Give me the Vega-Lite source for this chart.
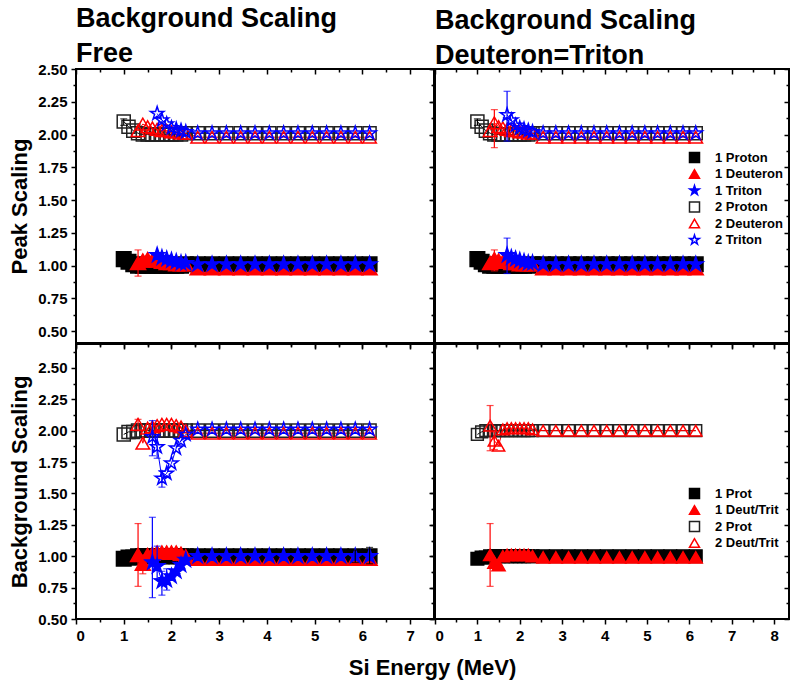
{
"$schema": "https://vega.github.io/schema/vega-lite/v6.json",
"padding": {"left": 7, "top": 4, "right": 0, "bottom": 4},
"bounds": "flush",
"spacing": 1,
"columns": 2,
"background": "white",
"config": {
  "view": {"stroke": "black", "strokeWidth": 2},
  "axis": {"labelFont": "Liberation Sans", "labelFontWeight": "bold", "labelFontSize": 15, "labelColor": "black", "tickColor": "black", "tickWidth": 1.5, "tickSize": 5, "domain": false, "grid": false, "titleFont": "Liberation Sans", "titleFontWeight": "bold", "titleFontSize": 22, "titleColor": "black", "labelPadding": 4, "titlePadding": 6},
  "title": {"font": "Liberation Sans", "fontSize": 27, "fontWeight": "bold", "anchor": "start", "frame": "group", "color": "black", "offset": -6, "lineHeight": 35},
  "legend": {"labelFont": "Liberation Sans", "labelFontWeight": "bold", "labelFontSize": 13, "labelColor": "black", "symbolSize": 100, "symbolStrokeWidth": 1.5, "rowPadding": 0.5, "labelOffset": 14, "padding": 0}
},
"datasets": {
"pts": [
{"p":"TL","s":"1 Proton","x":1.0,"y":1.05},{"p":"TL","s":"1 Proton","x":1.1,"y":1.03},{"p":"TL","s":"1 Proton","x":1.2,"y":1.01},{"p":"TL","s":"1 Proton","x":1.3,"y":1.0},{"p":"TL","s":"1 Proton","x":1.4,"y":1.0},{"p":"TL","s":"1 Proton","x":1.5,"y":1.0},{"p":"TL","s":"1 Proton","x":1.6,"y":1.0},{"p":"TL","s":"1 Proton","x":1.7,"y":1.0},{"p":"TL","s":"1 Proton","x":1.8,"y":1.0},{"p":"TL","s":"1 Proton","x":1.9,"y":1.0},{"p":"TL","s":"1 Proton","x":2.0,"y":1.0},{"p":"TL","s":"1 Proton","x":2.1,"y":1.0},{"p":"TL","s":"1 Proton","x":2.2,"y":1.0},{"p":"TL","s":"1 Proton","x":2.3,"y":1.01},
{"p":"TL","s":"1 Proton","x":2.55,"y":1.01},{"p":"TL","s":"1 Proton","x":2.85,"y":1.01},{"p":"TL","s":"1 Proton","x":3.15,"y":1.01},{"p":"TL","s":"1 Proton","x":3.45,"y":1.01},{"p":"TL","s":"1 Proton","x":3.75,"y":1.01},{"p":"TL","s":"1 Proton","x":4.05,"y":1.01},{"p":"TL","s":"1 Proton","x":4.35,"y":1.01},{"p":"TL","s":"1 Proton","x":4.65,"y":1.01},{"p":"TL","s":"1 Proton","x":4.95,"y":1.01},{"p":"TL","s":"1 Proton","x":5.25,"y":1.01},{"p":"TL","s":"1 Proton","x":5.55,"y":1.01},{"p":"TL","s":"1 Proton","x":5.85,"y":1.01},{"p":"TL","s":"1 Proton","x":6.15,"y":1.01},
{"p":"TL","s":"1 Deuteron","x":1.3,"y":1.02},{"p":"TL","s":"1 Deuteron","x":1.4,"y":1.04},{"p":"TL","s":"1 Deuteron","x":1.5,"y":1.05},{"p":"TL","s":"1 Deuteron","x":1.6,"y":1.04},{"p":"TL","s":"1 Deuteron","x":1.7,"y":1.04},{"p":"TL","s":"1 Deuteron","x":1.8,"y":1.03},{"p":"TL","s":"1 Deuteron","x":1.9,"y":1.02},{"p":"TL","s":"1 Deuteron","x":2.0,"y":1.02},{"p":"TL","s":"1 Deuteron","x":2.1,"y":1.01},{"p":"TL","s":"1 Deuteron","x":2.2,"y":1.01},{"p":"TL","s":"1 Deuteron","x":2.3,"y":1.01},
{"p":"TL","s":"1 Deuteron","x":2.55,"y":0.98},{"p":"TL","s":"1 Deuteron","x":2.85,"y":0.98},{"p":"TL","s":"1 Deuteron","x":3.15,"y":0.98},{"p":"TL","s":"1 Deuteron","x":3.45,"y":0.98},{"p":"TL","s":"1 Deuteron","x":3.75,"y":0.98},{"p":"TL","s":"1 Deuteron","x":4.05,"y":0.98},{"p":"TL","s":"1 Deuteron","x":4.35,"y":0.98},{"p":"TL","s":"1 Deuteron","x":4.65,"y":0.98},{"p":"TL","s":"1 Deuteron","x":4.95,"y":0.98},{"p":"TL","s":"1 Deuteron","x":5.25,"y":0.98},{"p":"TL","s":"1 Deuteron","x":5.55,"y":0.98},{"p":"TL","s":"1 Deuteron","x":5.85,"y":0.98},{"p":"TL","s":"1 Deuteron","x":6.15,"y":0.98},
{"p":"TL","s":"1 Triton","x":1.7,"y":1.08},{"p":"TL","s":"1 Triton","x":1.8,"y":1.06},{"p":"TL","s":"1 Triton","x":1.9,"y":1.05},{"p":"TL","s":"1 Triton","x":2.0,"y":1.04},{"p":"TL","s":"1 Triton","x":2.1,"y":1.03},{"p":"TL","s":"1 Triton","x":2.2,"y":1.02},{"p":"TL","s":"1 Triton","x":2.3,"y":1.02},
{"p":"TL","s":"1 Triton","x":2.55,"y":1.01},{"p":"TL","s":"1 Triton","x":2.85,"y":1.01},{"p":"TL","s":"1 Triton","x":3.15,"y":1.01},{"p":"TL","s":"1 Triton","x":3.45,"y":1.01},{"p":"TL","s":"1 Triton","x":3.75,"y":1.01},{"p":"TL","s":"1 Triton","x":4.05,"y":1.01},{"p":"TL","s":"1 Triton","x":4.35,"y":1.01},{"p":"TL","s":"1 Triton","x":4.65,"y":1.01},{"p":"TL","s":"1 Triton","x":4.95,"y":1.01},{"p":"TL","s":"1 Triton","x":5.25,"y":1.01},{"p":"TL","s":"1 Triton","x":5.55,"y":1.01},{"p":"TL","s":"1 Triton","x":5.85,"y":1.01},{"p":"TL","s":"1 Triton","x":6.15,"y":1.01},
{"p":"TL","s":"2 Proton","x":1.0,"y":2.10},{"p":"TL","s":"2 Proton","x":1.1,"y":2.06},{"p":"TL","s":"2 Proton","x":1.2,"y":2.03},{"p":"TL","s":"2 Proton","x":1.3,"y":2.01},{"p":"TL","s":"2 Proton","x":1.4,"y":2.0},{"p":"TL","s":"2 Proton","x":1.5,"y":2.0},{"p":"TL","s":"2 Proton","x":1.6,"y":2.0},{"p":"TL","s":"2 Proton","x":1.7,"y":2.0},{"p":"TL","s":"2 Proton","x":1.8,"y":2.0},{"p":"TL","s":"2 Proton","x":1.9,"y":2.0},{"p":"TL","s":"2 Proton","x":2.0,"y":2.0},{"p":"TL","s":"2 Proton","x":2.1,"y":2.0},{"p":"TL","s":"2 Proton","x":2.2,"y":2.0},{"p":"TL","s":"2 Proton","x":2.3,"y":2.01},
{"p":"TL","s":"2 Proton","x":2.55,"y":2.01},{"p":"TL","s":"2 Proton","x":2.85,"y":2.01},{"p":"TL","s":"2 Proton","x":3.15,"y":2.01},{"p":"TL","s":"2 Proton","x":3.45,"y":2.01},{"p":"TL","s":"2 Proton","x":3.75,"y":2.01},{"p":"TL","s":"2 Proton","x":4.05,"y":2.01},{"p":"TL","s":"2 Proton","x":4.35,"y":2.01},{"p":"TL","s":"2 Proton","x":4.65,"y":2.01},{"p":"TL","s":"2 Proton","x":4.95,"y":2.01},{"p":"TL","s":"2 Proton","x":5.25,"y":2.01},{"p":"TL","s":"2 Proton","x":5.55,"y":2.01},{"p":"TL","s":"2 Proton","x":5.85,"y":2.01},{"p":"TL","s":"2 Proton","x":6.15,"y":2.01},
{"p":"TL","s":"2 Deuteron","x":1.3,"y":2.03},{"p":"TL","s":"2 Deuteron","x":1.4,"y":2.08},{"p":"TL","s":"2 Deuteron","x":1.5,"y":2.06},{"p":"TL","s":"2 Deuteron","x":1.6,"y":2.05},{"p":"TL","s":"2 Deuteron","x":1.7,"y":2.04},{"p":"TL","s":"2 Deuteron","x":1.8,"y":2.03},{"p":"TL","s":"2 Deuteron","x":1.9,"y":2.03},{"p":"TL","s":"2 Deuteron","x":2.0,"y":2.02},{"p":"TL","s":"2 Deuteron","x":2.1,"y":2.02},{"p":"TL","s":"2 Deuteron","x":2.2,"y":2.01},{"p":"TL","s":"2 Deuteron","x":2.3,"y":2.01},
{"p":"TL","s":"2 Deuteron","x":2.55,"y":1.98},{"p":"TL","s":"2 Deuteron","x":2.85,"y":1.98},{"p":"TL","s":"2 Deuteron","x":3.15,"y":1.98},{"p":"TL","s":"2 Deuteron","x":3.45,"y":1.98},{"p":"TL","s":"2 Deuteron","x":3.75,"y":1.98},{"p":"TL","s":"2 Deuteron","x":4.05,"y":1.98},{"p":"TL","s":"2 Deuteron","x":4.35,"y":1.98},{"p":"TL","s":"2 Deuteron","x":4.65,"y":1.98},{"p":"TL","s":"2 Deuteron","x":4.95,"y":1.98},{"p":"TL","s":"2 Deuteron","x":5.25,"y":1.98},{"p":"TL","s":"2 Deuteron","x":5.55,"y":1.98},{"p":"TL","s":"2 Deuteron","x":5.85,"y":1.98},{"p":"TL","s":"2 Deuteron","x":6.15,"y":1.98},
{"p":"TL","s":"2 Triton","x":1.7,"y":2.16},{"p":"TL","s":"2 Triton","x":1.8,"y":2.11},{"p":"TL","s":"2 Triton","x":1.9,"y":2.08},{"p":"TL","s":"2 Triton","x":2.0,"y":2.05},{"p":"TL","s":"2 Triton","x":2.1,"y":2.04},{"p":"TL","s":"2 Triton","x":2.2,"y":2.03},{"p":"TL","s":"2 Triton","x":2.3,"y":2.02},
{"p":"TL","s":"2 Triton","x":2.55,"y":2.01},{"p":"TL","s":"2 Triton","x":2.85,"y":2.01},{"p":"TL","s":"2 Triton","x":3.15,"y":2.01},{"p":"TL","s":"2 Triton","x":3.45,"y":2.01},{"p":"TL","s":"2 Triton","x":3.75,"y":2.01},{"p":"TL","s":"2 Triton","x":4.05,"y":2.01},{"p":"TL","s":"2 Triton","x":4.35,"y":2.01},{"p":"TL","s":"2 Triton","x":4.65,"y":2.01},{"p":"TL","s":"2 Triton","x":4.95,"y":2.01},{"p":"TL","s":"2 Triton","x":5.25,"y":2.01},{"p":"TL","s":"2 Triton","x":5.55,"y":2.01},{"p":"TL","s":"2 Triton","x":5.85,"y":2.01},{"p":"TL","s":"2 Triton","x":6.15,"y":2.01},

{"p":"TR","s":"1 Proton","x":1.0,"y":1.05},{"p":"TR","s":"1 Proton","x":1.1,"y":1.03},{"p":"TR","s":"1 Proton","x":1.2,"y":1.01},{"p":"TR","s":"1 Proton","x":1.3,"y":1.0},{"p":"TR","s":"1 Proton","x":1.4,"y":1.0},{"p":"TR","s":"1 Proton","x":1.5,"y":1.0},{"p":"TR","s":"1 Proton","x":1.6,"y":1.0},{"p":"TR","s":"1 Proton","x":1.7,"y":1.0},{"p":"TR","s":"1 Proton","x":1.8,"y":1.0},{"p":"TR","s":"1 Proton","x":1.9,"y":1.0},{"p":"TR","s":"1 Proton","x":2.0,"y":1.0},{"p":"TR","s":"1 Proton","x":2.1,"y":1.0},{"p":"TR","s":"1 Proton","x":2.2,"y":1.0},{"p":"TR","s":"1 Proton","x":2.3,"y":1.01},
{"p":"TR","s":"1 Proton","x":2.55,"y":1.01},{"p":"TR","s":"1 Proton","x":2.85,"y":1.01},{"p":"TR","s":"1 Proton","x":3.15,"y":1.01},{"p":"TR","s":"1 Proton","x":3.45,"y":1.01},{"p":"TR","s":"1 Proton","x":3.75,"y":1.01},{"p":"TR","s":"1 Proton","x":4.05,"y":1.01},{"p":"TR","s":"1 Proton","x":4.35,"y":1.01},{"p":"TR","s":"1 Proton","x":4.65,"y":1.01},{"p":"TR","s":"1 Proton","x":4.95,"y":1.01},{"p":"TR","s":"1 Proton","x":5.25,"y":1.01},{"p":"TR","s":"1 Proton","x":5.55,"y":1.01},{"p":"TR","s":"1 Proton","x":5.85,"y":1.01},{"p":"TR","s":"1 Proton","x":6.15,"y":1.01},
{"p":"TR","s":"1 Deuteron","x":1.3,"y":1.02},{"p":"TR","s":"1 Deuteron","x":1.4,"y":1.05},{"p":"TR","s":"1 Deuteron","x":1.5,"y":1.04},{"p":"TR","s":"1 Deuteron","x":1.6,"y":1.03},{"p":"TR","s":"1 Deuteron","x":1.7,"y":1.03},{"p":"TR","s":"1 Deuteron","x":1.8,"y":1.02},{"p":"TR","s":"1 Deuteron","x":1.9,"y":1.02},{"p":"TR","s":"1 Deuteron","x":2.0,"y":1.01},{"p":"TR","s":"1 Deuteron","x":2.1,"y":1.01},{"p":"TR","s":"1 Deuteron","x":2.2,"y":1.01},{"p":"TR","s":"1 Deuteron","x":2.3,"y":1.01},
{"p":"TR","s":"1 Deuteron","x":2.55,"y":0.98},{"p":"TR","s":"1 Deuteron","x":2.85,"y":0.98},{"p":"TR","s":"1 Deuteron","x":3.15,"y":0.98},{"p":"TR","s":"1 Deuteron","x":3.45,"y":0.98},{"p":"TR","s":"1 Deuteron","x":3.75,"y":0.98},{"p":"TR","s":"1 Deuteron","x":4.05,"y":0.98},{"p":"TR","s":"1 Deuteron","x":4.35,"y":0.98},{"p":"TR","s":"1 Deuteron","x":4.65,"y":0.98},{"p":"TR","s":"1 Deuteron","x":4.95,"y":0.98},{"p":"TR","s":"1 Deuteron","x":5.25,"y":0.98},{"p":"TR","s":"1 Deuteron","x":5.55,"y":0.98},{"p":"TR","s":"1 Deuteron","x":5.85,"y":0.98},{"p":"TR","s":"1 Deuteron","x":6.15,"y":0.98},
{"p":"TR","s":"1 Triton","x":1.7,"y":1.08},{"p":"TR","s":"1 Triton","x":1.8,"y":1.06},{"p":"TR","s":"1 Triton","x":1.9,"y":1.05},{"p":"TR","s":"1 Triton","x":2.0,"y":1.04},{"p":"TR","s":"1 Triton","x":2.1,"y":1.03},{"p":"TR","s":"1 Triton","x":2.2,"y":1.02},{"p":"TR","s":"1 Triton","x":2.3,"y":1.02},
{"p":"TR","s":"1 Triton","x":2.55,"y":1.01},{"p":"TR","s":"1 Triton","x":2.85,"y":1.01},{"p":"TR","s":"1 Triton","x":3.15,"y":1.01},{"p":"TR","s":"1 Triton","x":3.45,"y":1.01},{"p":"TR","s":"1 Triton","x":3.75,"y":1.01},{"p":"TR","s":"1 Triton","x":4.05,"y":1.01},{"p":"TR","s":"1 Triton","x":4.35,"y":1.01},{"p":"TR","s":"1 Triton","x":4.65,"y":1.01},{"p":"TR","s":"1 Triton","x":4.95,"y":1.01},{"p":"TR","s":"1 Triton","x":5.25,"y":1.01},{"p":"TR","s":"1 Triton","x":5.55,"y":1.01},{"p":"TR","s":"1 Triton","x":5.85,"y":1.01},{"p":"TR","s":"1 Triton","x":6.15,"y":1.01},
{"p":"TR","s":"2 Proton","x":1.0,"y":2.10},{"p":"TR","s":"2 Proton","x":1.1,"y":2.06},{"p":"TR","s":"2 Proton","x":1.2,"y":2.03},{"p":"TR","s":"2 Proton","x":1.3,"y":2.01},{"p":"TR","s":"2 Proton","x":1.4,"y":2.0},{"p":"TR","s":"2 Proton","x":1.5,"y":2.0},{"p":"TR","s":"2 Proton","x":1.6,"y":2.0},{"p":"TR","s":"2 Proton","x":1.7,"y":2.0},{"p":"TR","s":"2 Proton","x":1.8,"y":2.0},{"p":"TR","s":"2 Proton","x":1.9,"y":2.0},{"p":"TR","s":"2 Proton","x":2.0,"y":2.0},{"p":"TR","s":"2 Proton","x":2.1,"y":2.0},{"p":"TR","s":"2 Proton","x":2.2,"y":2.0},{"p":"TR","s":"2 Proton","x":2.3,"y":2.01},
{"p":"TR","s":"2 Proton","x":2.55,"y":2.01},{"p":"TR","s":"2 Proton","x":2.85,"y":2.01},{"p":"TR","s":"2 Proton","x":3.15,"y":2.01},{"p":"TR","s":"2 Proton","x":3.45,"y":2.01},{"p":"TR","s":"2 Proton","x":3.75,"y":2.01},{"p":"TR","s":"2 Proton","x":4.05,"y":2.01},{"p":"TR","s":"2 Proton","x":4.35,"y":2.01},{"p":"TR","s":"2 Proton","x":4.65,"y":2.01},{"p":"TR","s":"2 Proton","x":4.95,"y":2.01},{"p":"TR","s":"2 Proton","x":5.25,"y":2.01},{"p":"TR","s":"2 Proton","x":5.55,"y":2.01},{"p":"TR","s":"2 Proton","x":5.85,"y":2.01},{"p":"TR","s":"2 Proton","x":6.15,"y":2.01},
{"p":"TR","s":"2 Deuteron","x":1.3,"y":2.03},{"p":"TR","s":"2 Deuteron","x":1.4,"y":2.09},{"p":"TR","s":"2 Deuteron","x":1.5,"y":2.06},{"p":"TR","s":"2 Deuteron","x":1.6,"y":2.05},{"p":"TR","s":"2 Deuteron","x":1.7,"y":2.04},{"p":"TR","s":"2 Deuteron","x":1.8,"y":2.03},{"p":"TR","s":"2 Deuteron","x":1.9,"y":2.03},{"p":"TR","s":"2 Deuteron","x":2.0,"y":2.02},{"p":"TR","s":"2 Deuteron","x":2.1,"y":2.02},{"p":"TR","s":"2 Deuteron","x":2.2,"y":2.01},{"p":"TR","s":"2 Deuteron","x":2.3,"y":2.01},
{"p":"TR","s":"2 Deuteron","x":2.55,"y":1.98},{"p":"TR","s":"2 Deuteron","x":2.85,"y":1.98},{"p":"TR","s":"2 Deuteron","x":3.15,"y":1.98},{"p":"TR","s":"2 Deuteron","x":3.45,"y":1.98},{"p":"TR","s":"2 Deuteron","x":3.75,"y":1.98},{"p":"TR","s":"2 Deuteron","x":4.05,"y":1.98},{"p":"TR","s":"2 Deuteron","x":4.35,"y":1.98},{"p":"TR","s":"2 Deuteron","x":4.65,"y":1.98},{"p":"TR","s":"2 Deuteron","x":4.95,"y":1.98},{"p":"TR","s":"2 Deuteron","x":5.25,"y":1.98},{"p":"TR","s":"2 Deuteron","x":5.55,"y":1.98},{"p":"TR","s":"2 Deuteron","x":5.85,"y":1.98},{"p":"TR","s":"2 Deuteron","x":6.15,"y":1.98},
{"p":"TR","s":"2 Triton","x":1.7,"y":2.15},{"p":"TR","s":"2 Triton","x":1.8,"y":2.11},{"p":"TR","s":"2 Triton","x":1.9,"y":2.07},{"p":"TR","s":"2 Triton","x":2.0,"y":2.05},{"p":"TR","s":"2 Triton","x":2.1,"y":2.04},{"p":"TR","s":"2 Triton","x":2.2,"y":2.03},{"p":"TR","s":"2 Triton","x":2.3,"y":2.02},
{"p":"TR","s":"2 Triton","x":2.55,"y":2.01},{"p":"TR","s":"2 Triton","x":2.85,"y":2.01},{"p":"TR","s":"2 Triton","x":3.15,"y":2.01},{"p":"TR","s":"2 Triton","x":3.45,"y":2.01},{"p":"TR","s":"2 Triton","x":3.75,"y":2.01},{"p":"TR","s":"2 Triton","x":4.05,"y":2.01},{"p":"TR","s":"2 Triton","x":4.35,"y":2.01},{"p":"TR","s":"2 Triton","x":4.65,"y":2.01},{"p":"TR","s":"2 Triton","x":4.95,"y":2.01},{"p":"TR","s":"2 Triton","x":5.25,"y":2.01},{"p":"TR","s":"2 Triton","x":5.55,"y":2.01},{"p":"TR","s":"2 Triton","x":5.85,"y":2.01},{"p":"TR","s":"2 Triton","x":6.15,"y":2.01},

{"p":"BL","s":"1 Proton","x":1.0,"y":0.98},{"p":"BL","s":"1 Proton","x":1.1,"y":0.99},{"p":"BL","s":"1 Proton","x":1.2,"y":0.99},{"p":"BL","s":"1 Proton","x":1.3,"y":1.0},{"p":"BL","s":"1 Proton","x":1.4,"y":1.0},{"p":"BL","s":"1 Proton","x":1.5,"y":1.0},{"p":"BL","s":"1 Proton","x":1.6,"y":1.0},{"p":"BL","s":"1 Proton","x":1.7,"y":1.0},{"p":"BL","s":"1 Proton","x":1.8,"y":1.0},{"p":"BL","s":"1 Proton","x":1.9,"y":1.0},{"p":"BL","s":"1 Proton","x":2.0,"y":1.0},{"p":"BL","s":"1 Proton","x":2.1,"y":1.0},{"p":"BL","s":"1 Proton","x":2.2,"y":1.0},{"p":"BL","s":"1 Proton","x":2.3,"y":1.0},
{"p":"BL","s":"1 Proton","x":2.55,"y":1.0},{"p":"BL","s":"1 Proton","x":2.85,"y":1.0},{"p":"BL","s":"1 Proton","x":3.15,"y":1.0},{"p":"BL","s":"1 Proton","x":3.45,"y":1.0},{"p":"BL","s":"1 Proton","x":3.75,"y":1.0},{"p":"BL","s":"1 Proton","x":4.05,"y":1.0},{"p":"BL","s":"1 Proton","x":4.35,"y":1.0},{"p":"BL","s":"1 Proton","x":4.65,"y":1.0},{"p":"BL","s":"1 Proton","x":4.95,"y":1.0},{"p":"BL","s":"1 Proton","x":5.25,"y":1.0},{"p":"BL","s":"1 Proton","x":5.55,"y":1.0},{"p":"BL","s":"1 Proton","x":5.85,"y":1.0},{"p":"BL","s":"1 Proton","x":6.15,"y":1.0},
{"p":"BL","s":"1 Deuteron","x":1.3,"y":1.01},{"p":"BL","s":"1 Deuteron","x":1.4,"y":0.94},{"p":"BL","s":"1 Deuteron","x":1.5,"y":1.01},{"p":"BL","s":"1 Deuteron","x":1.6,"y":1.02},{"p":"BL","s":"1 Deuteron","x":1.7,"y":1.03},{"p":"BL","s":"1 Deuteron","x":1.8,"y":1.03},{"p":"BL","s":"1 Deuteron","x":1.9,"y":1.03},{"p":"BL","s":"1 Deuteron","x":2.0,"y":1.03},{"p":"BL","s":"1 Deuteron","x":2.1,"y":1.03},{"p":"BL","s":"1 Deuteron","x":2.2,"y":1.02},{"p":"BL","s":"1 Deuteron","x":2.3,"y":1.0},
{"p":"BL","s":"1 Deuteron","x":2.55,"y":0.98},{"p":"BL","s":"1 Deuteron","x":2.85,"y":0.98},{"p":"BL","s":"1 Deuteron","x":3.15,"y":0.98},{"p":"BL","s":"1 Deuteron","x":3.45,"y":0.98},{"p":"BL","s":"1 Deuteron","x":3.75,"y":0.98},{"p":"BL","s":"1 Deuteron","x":4.05,"y":0.98},{"p":"BL","s":"1 Deuteron","x":4.35,"y":0.98},{"p":"BL","s":"1 Deuteron","x":4.65,"y":0.98},{"p":"BL","s":"1 Deuteron","x":4.95,"y":0.98},{"p":"BL","s":"1 Deuteron","x":5.25,"y":0.98},{"p":"BL","s":"1 Deuteron","x":5.55,"y":0.98},{"p":"BL","s":"1 Deuteron","x":5.85,"y":0.98},{"p":"BL","s":"1 Deuteron","x":6.15,"y":0.98},
{"p":"BL","s":"1 Triton","x":1.6,"y":0.95},{"p":"BL","s":"1 Triton","x":1.7,"y":0.92},{"p":"BL","s":"1 Triton","x":1.8,"y":0.80},{"p":"BL","s":"1 Triton","x":1.9,"y":0.81},{"p":"BL","s":"1 Triton","x":2.0,"y":0.84},{"p":"BL","s":"1 Triton","x":2.1,"y":0.88},{"p":"BL","s":"1 Triton","x":2.2,"y":0.93},{"p":"BL","s":"1 Triton","x":2.3,"y":0.97},
{"p":"BL","s":"1 Triton","x":2.55,"y":1.0},{"p":"BL","s":"1 Triton","x":2.85,"y":1.0},{"p":"BL","s":"1 Triton","x":3.15,"y":1.0},{"p":"BL","s":"1 Triton","x":3.45,"y":1.0},{"p":"BL","s":"1 Triton","x":3.75,"y":1.0},{"p":"BL","s":"1 Triton","x":4.05,"y":1.0},{"p":"BL","s":"1 Triton","x":4.35,"y":1.0},{"p":"BL","s":"1 Triton","x":4.65,"y":1.0},{"p":"BL","s":"1 Triton","x":4.95,"y":1.0},{"p":"BL","s":"1 Triton","x":5.25,"y":1.0},{"p":"BL","s":"1 Triton","x":5.55,"y":1.0},{"p":"BL","s":"1 Triton","x":5.85,"y":1.0},{"p":"BL","s":"1 Triton","x":6.15,"y":1.0},
{"p":"BL","s":"2 Proton","x":1.0,"y":1.97},{"p":"BL","s":"2 Proton","x":1.1,"y":1.99},{"p":"BL","s":"2 Proton","x":1.2,"y":1.99},{"p":"BL","s":"2 Proton","x":1.3,"y":2.0},{"p":"BL","s":"2 Proton","x":1.4,"y":2.0},{"p":"BL","s":"2 Proton","x":1.5,"y":2.0},{"p":"BL","s":"2 Proton","x":1.6,"y":2.0},{"p":"BL","s":"2 Proton","x":1.7,"y":2.0},{"p":"BL","s":"2 Proton","x":1.8,"y":2.0},{"p":"BL","s":"2 Proton","x":1.9,"y":2.0},{"p":"BL","s":"2 Proton","x":2.0,"y":2.0},{"p":"BL","s":"2 Proton","x":2.1,"y":2.0},{"p":"BL","s":"2 Proton","x":2.2,"y":2.0},{"p":"BL","s":"2 Proton","x":2.3,"y":2.0},
{"p":"BL","s":"2 Proton","x":2.55,"y":2.0},{"p":"BL","s":"2 Proton","x":2.85,"y":2.0},{"p":"BL","s":"2 Proton","x":3.15,"y":2.0},{"p":"BL","s":"2 Proton","x":3.45,"y":2.0},{"p":"BL","s":"2 Proton","x":3.75,"y":2.0},{"p":"BL","s":"2 Proton","x":4.05,"y":2.0},{"p":"BL","s":"2 Proton","x":4.35,"y":2.0},{"p":"BL","s":"2 Proton","x":4.65,"y":2.0},{"p":"BL","s":"2 Proton","x":4.95,"y":2.0},{"p":"BL","s":"2 Proton","x":5.25,"y":2.0},{"p":"BL","s":"2 Proton","x":5.55,"y":2.0},{"p":"BL","s":"2 Proton","x":5.85,"y":2.0},{"p":"BL","s":"2 Proton","x":6.15,"y":2.0},
{"p":"BL","s":"2 Deuteron","x":1.3,"y":2.05},{"p":"BL","s":"2 Deuteron","x":1.4,"y":1.90},{"p":"BL","s":"2 Deuteron","x":1.5,"y":2.02},{"p":"BL","s":"2 Deuteron","x":1.6,"y":2.03},{"p":"BL","s":"2 Deuteron","x":1.7,"y":2.04},{"p":"BL","s":"2 Deuteron","x":1.8,"y":2.05},{"p":"BL","s":"2 Deuteron","x":1.9,"y":2.05},{"p":"BL","s":"2 Deuteron","x":2.0,"y":2.05},{"p":"BL","s":"2 Deuteron","x":2.1,"y":2.04},{"p":"BL","s":"2 Deuteron","x":2.2,"y":2.03},{"p":"BL","s":"2 Deuteron","x":2.3,"y":2.0},
{"p":"BL","s":"2 Deuteron","x":2.55,"y":1.98},{"p":"BL","s":"2 Deuteron","x":2.85,"y":1.98},{"p":"BL","s":"2 Deuteron","x":3.15,"y":1.98},{"p":"BL","s":"2 Deuteron","x":3.45,"y":1.98},{"p":"BL","s":"2 Deuteron","x":3.75,"y":1.98},{"p":"BL","s":"2 Deuteron","x":4.05,"y":1.98},{"p":"BL","s":"2 Deuteron","x":4.35,"y":1.98},{"p":"BL","s":"2 Deuteron","x":4.65,"y":1.98},{"p":"BL","s":"2 Deuteron","x":4.95,"y":1.98},{"p":"BL","s":"2 Deuteron","x":5.25,"y":1.98},{"p":"BL","s":"2 Deuteron","x":5.55,"y":1.98},{"p":"BL","s":"2 Deuteron","x":5.85,"y":1.98},{"p":"BL","s":"2 Deuteron","x":6.15,"y":1.98},
{"p":"BL","s":"2 Triton","x":1.6,"y":1.95},{"p":"BL","s":"2 Triton","x":1.7,"y":1.87},{"p":"BL","s":"2 Triton","x":1.8,"y":1.62},{"p":"BL","s":"2 Triton","x":1.9,"y":1.66},{"p":"BL","s":"2 Triton","x":2.0,"y":1.74},{"p":"BL","s":"2 Triton","x":2.1,"y":1.86},{"p":"BL","s":"2 Triton","x":2.2,"y":1.92},{"p":"BL","s":"2 Triton","x":2.3,"y":1.97},
{"p":"BL","s":"2 Triton","x":2.55,"y":2.01},{"p":"BL","s":"2 Triton","x":2.85,"y":2.01},{"p":"BL","s":"2 Triton","x":3.15,"y":2.01},{"p":"BL","s":"2 Triton","x":3.45,"y":2.01},{"p":"BL","s":"2 Triton","x":3.75,"y":2.01},{"p":"BL","s":"2 Triton","x":4.05,"y":2.01},{"p":"BL","s":"2 Triton","x":4.35,"y":2.01},{"p":"BL","s":"2 Triton","x":4.65,"y":2.01},{"p":"BL","s":"2 Triton","x":4.95,"y":2.01},{"p":"BL","s":"2 Triton","x":5.25,"y":2.01},{"p":"BL","s":"2 Triton","x":5.55,"y":2.01},{"p":"BL","s":"2 Triton","x":5.85,"y":2.01},{"p":"BL","s":"2 Triton","x":6.15,"y":2.01},

{"p":"BR","s":"1 Prot","x":1.0,"y":0.98},{"p":"BR","s":"1 Prot","x":1.1,"y":0.99},{"p":"BR","s":"1 Prot","x":1.2,"y":0.99},{"p":"BR","s":"1 Prot","x":1.3,"y":1.0},{"p":"BR","s":"1 Prot","x":1.4,"y":1.0},{"p":"BR","s":"1 Prot","x":1.5,"y":1.0},{"p":"BR","s":"1 Prot","x":1.6,"y":1.0},{"p":"BR","s":"1 Prot","x":1.7,"y":1.0},{"p":"BR","s":"1 Prot","x":1.8,"y":1.0},{"p":"BR","s":"1 Prot","x":1.9,"y":1.0},{"p":"BR","s":"1 Prot","x":2.0,"y":1.0},{"p":"BR","s":"1 Prot","x":2.1,"y":1.0},{"p":"BR","s":"1 Prot","x":2.2,"y":1.0},{"p":"BR","s":"1 Prot","x":2.3,"y":1.0},
{"p":"BR","s":"1 Prot","x":2.55,"y":1.0},{"p":"BR","s":"1 Prot","x":2.85,"y":1.0},{"p":"BR","s":"1 Prot","x":3.15,"y":1.0},{"p":"BR","s":"1 Prot","x":3.45,"y":1.0},{"p":"BR","s":"1 Prot","x":3.75,"y":1.0},{"p":"BR","s":"1 Prot","x":4.05,"y":1.0},{"p":"BR","s":"1 Prot","x":4.35,"y":1.0},{"p":"BR","s":"1 Prot","x":4.65,"y":1.0},{"p":"BR","s":"1 Prot","x":4.95,"y":1.0},{"p":"BR","s":"1 Prot","x":5.25,"y":1.0},{"p":"BR","s":"1 Prot","x":5.55,"y":1.0},{"p":"BR","s":"1 Prot","x":5.85,"y":1.0},{"p":"BR","s":"1 Prot","x":6.15,"y":1.0},
{"p":"BR","s":"1 Deut/Trit","x":1.3,"y":1.01},{"p":"BR","s":"1 Deut/Trit","x":1.4,"y":0.95},{"p":"BR","s":"1 Deut/Trit","x":1.5,"y":0.93},{"p":"BR","s":"1 Deut/Trit","x":1.6,"y":1.0},{"p":"BR","s":"1 Deut/Trit","x":1.7,"y":1.01},{"p":"BR","s":"1 Deut/Trit","x":1.8,"y":1.01},{"p":"BR","s":"1 Deut/Trit","x":1.9,"y":1.01},{"p":"BR","s":"1 Deut/Trit","x":2.0,"y":1.01},{"p":"BR","s":"1 Deut/Trit","x":2.1,"y":1.01},{"p":"BR","s":"1 Deut/Trit","x":2.2,"y":1.01},{"p":"BR","s":"1 Deut/Trit","x":2.3,"y":1.0},
{"p":"BR","s":"1 Deut/Trit","x":2.55,"y":0.99},{"p":"BR","s":"1 Deut/Trit","x":2.85,"y":0.99},{"p":"BR","s":"1 Deut/Trit","x":3.15,"y":0.99},{"p":"BR","s":"1 Deut/Trit","x":3.45,"y":0.99},{"p":"BR","s":"1 Deut/Trit","x":3.75,"y":0.99},{"p":"BR","s":"1 Deut/Trit","x":4.05,"y":0.99},{"p":"BR","s":"1 Deut/Trit","x":4.35,"y":0.99},{"p":"BR","s":"1 Deut/Trit","x":4.65,"y":0.99},{"p":"BR","s":"1 Deut/Trit","x":4.95,"y":0.99},{"p":"BR","s":"1 Deut/Trit","x":5.25,"y":0.99},{"p":"BR","s":"1 Deut/Trit","x":5.55,"y":0.99},{"p":"BR","s":"1 Deut/Trit","x":5.85,"y":0.99},{"p":"BR","s":"1 Deut/Trit","x":6.15,"y":0.99},
{"p":"BR","s":"2 Prot","x":1.0,"y":1.97},{"p":"BR","s":"2 Prot","x":1.1,"y":1.99},{"p":"BR","s":"2 Prot","x":1.2,"y":2.0},{"p":"BR","s":"2 Prot","x":1.3,"y":2.0},{"p":"BR","s":"2 Prot","x":1.4,"y":2.0},{"p":"BR","s":"2 Prot","x":1.5,"y":2.0},{"p":"BR","s":"2 Prot","x":1.6,"y":2.0},{"p":"BR","s":"2 Prot","x":1.7,"y":2.0},{"p":"BR","s":"2 Prot","x":1.8,"y":2.0},{"p":"BR","s":"2 Prot","x":1.9,"y":2.0},{"p":"BR","s":"2 Prot","x":2.0,"y":2.0},{"p":"BR","s":"2 Prot","x":2.1,"y":2.0},{"p":"BR","s":"2 Prot","x":2.2,"y":2.0},{"p":"BR","s":"2 Prot","x":2.3,"y":2.0},
{"p":"BR","s":"2 Prot","x":2.55,"y":2.0},{"p":"BR","s":"2 Prot","x":2.85,"y":2.0},{"p":"BR","s":"2 Prot","x":3.15,"y":2.0},{"p":"BR","s":"2 Prot","x":3.45,"y":2.0},{"p":"BR","s":"2 Prot","x":3.75,"y":2.0},{"p":"BR","s":"2 Prot","x":4.05,"y":2.0},{"p":"BR","s":"2 Prot","x":4.35,"y":2.0},{"p":"BR","s":"2 Prot","x":4.65,"y":2.0},{"p":"BR","s":"2 Prot","x":4.95,"y":2.0},{"p":"BR","s":"2 Prot","x":5.25,"y":2.0},{"p":"BR","s":"2 Prot","x":5.55,"y":2.0},{"p":"BR","s":"2 Prot","x":5.85,"y":2.0},{"p":"BR","s":"2 Prot","x":6.15,"y":2.0},
{"p":"BR","s":"2 Deut/Trit","x":1.3,"y":2.04},{"p":"BR","s":"2 Deut/Trit","x":1.4,"y":1.92},{"p":"BR","s":"2 Deut/Trit","x":1.5,"y":1.88},{"p":"BR","s":"2 Deut/Trit","x":1.6,"y":2.01},{"p":"BR","s":"2 Deut/Trit","x":1.7,"y":2.02},{"p":"BR","s":"2 Deut/Trit","x":1.8,"y":2.02},{"p":"BR","s":"2 Deut/Trit","x":1.9,"y":2.02},{"p":"BR","s":"2 Deut/Trit","x":2.0,"y":2.02},{"p":"BR","s":"2 Deut/Trit","x":2.1,"y":2.02},{"p":"BR","s":"2 Deut/Trit","x":2.2,"y":2.02},{"p":"BR","s":"2 Deut/Trit","x":2.3,"y":2.01},
{"p":"BR","s":"2 Deut/Trit","x":2.55,"y":2.0},{"p":"BR","s":"2 Deut/Trit","x":2.85,"y":2.0},{"p":"BR","s":"2 Deut/Trit","x":3.15,"y":2.0},{"p":"BR","s":"2 Deut/Trit","x":3.45,"y":2.0},{"p":"BR","s":"2 Deut/Trit","x":3.75,"y":2.0},{"p":"BR","s":"2 Deut/Trit","x":4.05,"y":2.0},{"p":"BR","s":"2 Deut/Trit","x":4.35,"y":2.0},{"p":"BR","s":"2 Deut/Trit","x":4.65,"y":2.0},{"p":"BR","s":"2 Deut/Trit","x":4.95,"y":2.0},{"p":"BR","s":"2 Deut/Trit","x":5.25,"y":2.0},{"p":"BR","s":"2 Deut/Trit","x":5.55,"y":2.0},{"p":"BR","s":"2 Deut/Trit","x":5.85,"y":2.0},{"p":"BR","s":"2 Deut/Trit","x":6.15,"y":2.0}
],
"err": [
{"p":"TL","s":"1 Deuteron","x":1.3,"lo":0.92,"hi":1.12},{"p":"TL","s":"2 Proton","x":1.0,"lo":2.07,"hi":2.12},
{"p":"TR","s":"1 Deuteron","x":1.4,"lo":0.96,"hi":1.12},{"p":"TR","s":"1 Triton","x":1.7,"lo":0.94,"hi":1.21},{"p":"TR","s":"2 Deuteron","x":1.4,"lo":1.90,"hi":2.19},{"p":"TR","s":"2 Triton","x":1.7,"lo":1.95,"hi":2.33},{"p":"TR","s":"2 Proton","x":1.0,"lo":2.07,"hi":2.12},
{"p":"BL","s":"1 Deuteron","x":1.3,"lo":0.76,"hi":1.26},{"p":"BL","s":"1 Deuteron","x":1.4,"lo":0.86,"hi":1.01},{"p":"BL","s":"1 Triton","x":1.6,"lo":0.67,"hi":1.31},{"p":"BL","s":"1 Triton","x":1.7,"lo":0.82,"hi":1.08},{"p":"BL","s":"1 Triton","x":1.8,"lo":0.69,"hi":0.88},{"p":"BL","s":"1 Triton","x":1.9,"lo":0.73,"hi":0.90},{"p":"BL","s":"1 Proton","x":5.85,"lo":0.95,"hi":1.05},{"p":"BL","s":"1 Proton","x":6.15,"lo":0.94,"hi":1.07},{"p":"BL","s":"2 Deuteron","x":1.3,"lo":2.0,"hi":2.09},{"p":"BL","s":"2 Triton","x":1.6,"lo":1.80,"hi":2.08},{"p":"BL","s":"2 Triton","x":1.7,"lo":1.78,"hi":1.95},{"p":"BL","s":"2 Triton","x":1.8,"lo":1.55,"hi":1.68},
{"p":"BR","s":"1 Deut/Trit","x":1.3,"lo":0.76,"hi":1.26},{"p":"BR","s":"2 Deut/Trit","x":1.3,"lo":1.84,"hi":2.20},{"p":"BR","s":"2 Deut/Trit","x":1.4,"lo":1.85,"hi":1.99}
]
},
"resolve": {"scale": {"x": "independent", "y": "independent", "color": "independent", "stroke": "independent", "fill": "independent", "shape": "independent", "size": "independent"}},
"concat": [
{
"width": 358, "height": 274,
"title": {"text": ["Background Scaling", "Free"]},
"resolve": {"axis": {"x": "independent", "y": "independent"}},
"layer": [
{"data": {"name": "pts"}, "transform": [{"filter": "datum.p == 'TL'"}],
 "mark": {"type": "line", "strokeWidth": 1},
 "encoding": {
  "x": {"field": "x", "type": "quantitative", "scale": {"domain": [0, 7.5], "nice": false, "zero": false}, "axis": {"orient": "bottom", "values": [0,1,2,3,4,5,6,7], "labels": false, "title": null}},
  "y": {"field": "y", "type": "quantitative", "scale": {"domain": [0.41, 2.5], "nice": false, "zero": false}, "axis": {"orient": "left", "values": [0.5,0.75,1,1.25,1.5,1.75,2,2.25,2.5], "format": ".2f", "title": "Peak Scaling"}},
  "color": {"field": "s", "type": "nominal", "scale": {"domain": ["2 Triton","2 Deuteron","2 Proton","1 Triton","1 Deuteron","1 Proton"], "range": ["#0000ff","#ff0000","#000000","#0000ff","#ff0000","#000000"]}, "legend": null}
 }},
{"data": {"name": "pts"}, "transform": [{"filter": "datum.p == 'TL'"}],
 "mark": {"type": "point", "filled": true, "strokeWidth": 1.5, "opacity": 1},
 "encoding": {
  "x": {"field": "x", "type": "quantitative", "scale": {"domain": [0, 7.5], "nice": false, "zero": false}, "axis": null},
  "y": {"field": "y", "type": "quantitative", "scale": {"domain": [0.41, 2.5], "nice": false, "zero": false}, "axis": null},
  "size": {"field": "s", "type": "nominal", "scale": {"domain": ["1 Triton","1 Deuteron","1 Proton","2 Triton","2 Deuteron","2 Proton"], "range": [240,170,140,240,170,140]}, "legend": null},
  "shape": {"field": "s", "type": "nominal", "scale": {"domain": ["1 Proton","1 Deuteron","1 Triton","2 Proton","2 Deuteron","2 Triton"], "range": ["square","triangle-up","M0,-1L0.2245,-0.309L0.951,-0.309L0.363,0.118L0.588,0.809L0,0.382L-0.588,0.809L-0.363,0.118L-0.951,-0.309L-0.2245,-0.309Z","square","triangle-up","M0,-1L0.2245,-0.309L0.951,-0.309L0.363,0.118L0.588,0.809L0,0.382L-0.588,0.809L-0.363,0.118L-0.951,-0.309L-0.2245,-0.309Z"]}, "legend": null},
  "stroke": {"field": "s", "type": "nominal", "scale": {"domain": ["1 Proton","1 Deuteron","1 Triton","2 Proton","2 Deuteron","2 Triton"], "range": ["#000000","#ff0000","#0000ff","#222222","#ff0000","#0000ff"]}, "legend": null},
  "fill": {"field": "s", "type": "nominal", "scale": {"domain": ["1 Proton","1 Deuteron","1 Triton","2 Proton","2 Deuteron","2 Triton"], "range": ["#000000","#ff0000","#0000ff","transparent","transparent","transparent"]}, "legend": null}
 }},
{"data": {"name": "err"}, "transform": [{"filter": "datum.p == 'TL'"}],
 "mark": {"type": "rule", "strokeWidth": 1.2},
 "encoding": {
  "x": {"field": "x", "type": "quantitative", "scale": {"domain": [0, 7.5], "nice": false, "zero": false}, "axis": {"orient": "top", "values": [0,1,2,3,4,5,6,7], "labels": false, "title": null, "tickSize": -5}},
  "y": {"field": "lo", "type": "quantitative", "scale": {"domain": [0.41, 2.5], "nice": false, "zero": false}, "axis": {"orient": "right", "values": [0.5,0.75,1,1.25,1.5,1.75,2,2.25,2.5], "labels": false, "title": null, "tickSize": -5}},
  "y2": {"field": "hi"},
  "color": {"field": "s", "type": "nominal", "scale": {"domain": ["2 Triton","2 Deuteron","2 Proton","1 Triton","1 Deuteron","1 Proton"], "range": ["#0000ff","#ff0000","#000000","#0000ff","#ff0000","#000000"]}, "legend": null}
 }},
{"data": {"name": "err"}, "transform": [{"filter": "datum.p == 'TL'"}],
 "mark": {"type": "tick", "orient": "horizontal", "size": 7, "thickness": 1.2},
 "encoding": {
  "x": {"field": "x", "type": "quantitative", "scale": {"domain": [0, 7.5], "nice": false, "zero": false}, "axis": {"orient": "bottom", "values": [0.5,1.5,2.5,3.5,4.5,5.5,6.5], "labels": false, "title": null, "tickSize": 3}},
  "y": {"field": "lo", "type": "quantitative", "scale": {"domain": [0.41, 2.5], "nice": false, "zero": false}, "axis": {"orient": "left", "values": [0.625,0.875,1.125,1.375,1.625,1.875,2.125,2.375], "labels": false, "title": null, "tickSize": 3}},
  "color": {"field": "s", "type": "nominal", "scale": {"domain": ["2 Triton","2 Deuteron","2 Proton","1 Triton","1 Deuteron","1 Proton"], "range": ["#0000ff","#ff0000","#000000","#0000ff","#ff0000","#000000"]}, "legend": null}
 }},
{"data": {"name": "err"}, "transform": [{"filter": "datum.p == 'TL'"}],
 "mark": {"type": "tick", "orient": "horizontal", "size": 7, "thickness": 1.2},
 "encoding": {
  "x": {"field": "x", "type": "quantitative", "scale": {"domain": [0, 7.5], "nice": false, "zero": false}, "axis": {"orient": "top", "values": [0.5,1.5,2.5,3.5,4.5,5.5,6.5], "labels": false, "title": null, "tickSize": -3}},
  "y": {"field": "hi", "type": "quantitative", "scale": {"domain": [0.41, 2.5], "nice": false, "zero": false}, "axis": {"orient": "right", "values": [0.625,0.875,1.125,1.375,1.625,1.875,2.125,2.375], "labels": false, "title": null, "tickSize": -3}},
  "color": {"field": "s", "type": "nominal", "scale": {"domain": ["2 Triton","2 Deuteron","2 Proton","1 Triton","1 Deuteron","1 Proton"], "range": ["#0000ff","#ff0000","#000000","#0000ff","#ff0000","#000000"]}, "legend": null}
 }}
]
},
{
"width": 354, "height": 274,
"title": {"text": ["Background Scaling", "Deuteron=Triton"], "offset": -2},
"resolve": {"axis": {"x": "independent", "y": "independent"}},
"layer": [
{"data": {"name": "pts"}, "transform": [{"filter": "datum.p == 'TR'"}],
 "mark": {"type": "line", "strokeWidth": 1},
 "encoding": {
  "x": {"field": "x", "type": "quantitative", "scale": {"domain": [0, 8.35], "nice": false, "zero": false}, "axis": {"orient": "bottom", "values": [0,1,2,3,4,5,6,7,8], "labels": false, "title": null}},
  "y": {"field": "y", "type": "quantitative", "scale": {"domain": [0.41, 2.5], "nice": false, "zero": false}, "axis": {"orient": "left", "values": [0.5,0.75,1,1.25,1.5,1.75,2,2.25,2.5], "labels": false, "title": null}},
  "color": {"field": "s", "type": "nominal", "scale": {"domain": ["2 Triton","2 Deuteron","2 Proton","1 Triton","1 Deuteron","1 Proton"], "range": ["#0000ff","#ff0000","#000000","#0000ff","#ff0000","#000000"]}, "legend": null}
 }},
{"data": {"name": "pts"}, "transform": [{"filter": "datum.p == 'TR'"}],
 "mark": {"type": "point", "filled": true, "strokeWidth": 1.5, "opacity": 1},
 "encoding": {
  "x": {"field": "x", "type": "quantitative", "scale": {"domain": [0, 8.35], "nice": false, "zero": false}, "axis": null},
  "y": {"field": "y", "type": "quantitative", "scale": {"domain": [0.41, 2.5], "nice": false, "zero": false}, "axis": null},
  "size": {"field": "s", "type": "nominal", "scale": {"domain": ["1 Triton","1 Deuteron","1 Proton","2 Triton","2 Deuteron","2 Proton"], "range": [240,170,140,240,170,140]}, "legend": null},
  "shape": {"field": "s", "type": "nominal", "scale": {"domain": ["1 Proton","1 Deuteron","1 Triton","2 Proton","2 Deuteron","2 Triton"], "range": ["square","triangle-up","M0,-1L0.2245,-0.309L0.951,-0.309L0.363,0.118L0.588,0.809L0,0.382L-0.588,0.809L-0.363,0.118L-0.951,-0.309L-0.2245,-0.309Z","square","triangle-up","M0,-1L0.2245,-0.309L0.951,-0.309L0.363,0.118L0.588,0.809L0,0.382L-0.588,0.809L-0.363,0.118L-0.951,-0.309L-0.2245,-0.309Z"]}, "legend": {"title": null, "orient": "none", "legendX": 253, "legendY": 82, "direction": "vertical"}},
  "stroke": {"field": "s", "type": "nominal", "scale": {"domain": ["1 Proton","1 Deuteron","1 Triton","2 Proton","2 Deuteron","2 Triton"], "range": ["#000000","#ff0000","#0000ff","#222222","#ff0000","#0000ff"]}, "legend": {"title": null, "orient": "none", "legendX": 253, "legendY": 82, "direction": "vertical"}},
  "fill": {"field": "s", "type": "nominal", "scale": {"domain": ["1 Proton","1 Deuteron","1 Triton","2 Proton","2 Deuteron","2 Triton"], "range": ["#000000","#ff0000","#0000ff","transparent","transparent","transparent"]}, "legend": {"title": null, "orient": "none", "legendX": 253, "legendY": 82, "direction": "vertical"}}
 }},
{"data": {"name": "err"}, "transform": [{"filter": "datum.p == 'TR'"}],
 "mark": {"type": "rule", "strokeWidth": 1.2},
 "encoding": {
  "x": {"field": "x", "type": "quantitative", "scale": {"domain": [0, 8.35], "nice": false, "zero": false}, "axis": {"orient": "top", "values": [0,1,2,3,4,5,6,7,8], "labels": false, "title": null, "tickSize": -5}},
  "y": {"field": "lo", "type": "quantitative", "scale": {"domain": [0.41, 2.5], "nice": false, "zero": false}, "axis": {"orient": "right", "values": [0.5,0.75,1,1.25,1.5,1.75,2,2.25,2.5], "labels": false, "title": null, "tickSize": -5}},
  "y2": {"field": "hi"},
  "color": {"field": "s", "type": "nominal", "scale": {"domain": ["2 Triton","2 Deuteron","2 Proton","1 Triton","1 Deuteron","1 Proton"], "range": ["#0000ff","#ff0000","#000000","#0000ff","#ff0000","#000000"]}, "legend": null}
 }},
{"data": {"name": "err"}, "transform": [{"filter": "datum.p == 'TR'"}],
 "mark": {"type": "tick", "orient": "horizontal", "size": 7, "thickness": 1.2},
 "encoding": {
  "x": {"field": "x", "type": "quantitative", "scale": {"domain": [0, 8.35], "nice": false, "zero": false}, "axis": {"orient": "bottom", "values": [0.5,1.5,2.5,3.5,4.5,5.5,6.5,7.5], "labels": false, "title": null, "tickSize": 3}},
  "y": {"field": "lo", "type": "quantitative", "scale": {"domain": [0.41, 2.5], "nice": false, "zero": false}, "axis": {"orient": "left", "values": [0.625,0.875,1.125,1.375,1.625,1.875,2.125,2.375], "labels": false, "title": null, "tickSize": 3}},
  "color": {"field": "s", "type": "nominal", "scale": {"domain": ["2 Triton","2 Deuteron","2 Proton","1 Triton","1 Deuteron","1 Proton"], "range": ["#0000ff","#ff0000","#000000","#0000ff","#ff0000","#000000"]}, "legend": null}
 }},
{"data": {"name": "err"}, "transform": [{"filter": "datum.p == 'TR'"}],
 "mark": {"type": "tick", "orient": "horizontal", "size": 7, "thickness": 1.2},
 "encoding": {
  "x": {"field": "x", "type": "quantitative", "scale": {"domain": [0, 8.35], "nice": false, "zero": false}, "axis": {"orient": "top", "values": [0.5,1.5,2.5,3.5,4.5,5.5,6.5,7.5], "labels": false, "title": null, "tickSize": -3}},
  "y": {"field": "hi", "type": "quantitative", "scale": {"domain": [0.41, 2.5], "nice": false, "zero": false}, "axis": {"orient": "right", "values": [0.625,0.875,1.125,1.375,1.625,1.875,2.125,2.375], "labels": false, "title": null, "tickSize": -3}},
  "color": {"field": "s", "type": "nominal", "scale": {"domain": ["2 Triton","2 Deuteron","2 Proton","1 Triton","1 Deuteron","1 Proton"], "range": ["#0000ff","#ff0000","#000000","#0000ff","#ff0000","#000000"]}, "legend": null}
 }}
]
},
{
"width": 358, "height": 275,
"resolve": {"axis": {"x": "independent", "y": "independent"}},
"layer": [
{"data": {"name": "pts"}, "transform": [{"filter": "datum.p == 'BL'"}],
 "mark": {"type": "line", "strokeWidth": 1},
 "encoding": {
  "x": {"field": "x", "type": "quantitative", "scale": {"domain": [0, 7.5], "nice": false, "zero": false}, "axis": {"orient": "bottom", "values": [0,1,2,3,4,5,6,7], "title": "Si Energy (MeV)", "titleX": 356, "titleY": 48, "titleAlign": "center", "titleBaseline": "middle"}},
  "y": {"field": "y", "type": "quantitative", "scale": {"domain": [0.5, 2.69], "nice": false, "zero": false}, "axis": {"orient": "left", "values": [0.5,0.75,1,1.25,1.5,1.75,2,2.25,2.5], "format": ".2f", "title": "Background Scaling"}},
  "color": {"field": "s", "type": "nominal", "scale": {"domain": ["2 Triton","2 Deuteron","2 Proton","1 Triton","1 Deuteron","1 Proton"], "range": ["#0000ff","#ff0000","#000000","#0000ff","#ff0000","#000000"]}, "legend": null}
 }},
{"data": {"name": "pts"}, "transform": [{"filter": "datum.p == 'BL'"}],
 "mark": {"type": "point", "filled": true, "strokeWidth": 1.5, "opacity": 1},
 "encoding": {
  "x": {"field": "x", "type": "quantitative", "scale": {"domain": [0, 7.5], "nice": false, "zero": false}, "axis": null},
  "y": {"field": "y", "type": "quantitative", "scale": {"domain": [0.5, 2.69], "nice": false, "zero": false}, "axis": null},
  "size": {"field": "s", "type": "nominal", "scale": {"domain": ["1 Triton","1 Deuteron","1 Proton","2 Triton","2 Deuteron","2 Proton"], "range": [240,170,140,240,170,140]}, "legend": null},
  "shape": {"field": "s", "type": "nominal", "scale": {"domain": ["1 Proton","1 Deuteron","1 Triton","2 Proton","2 Deuteron","2 Triton"], "range": ["square","triangle-up","M0,-1L0.2245,-0.309L0.951,-0.309L0.363,0.118L0.588,0.809L0,0.382L-0.588,0.809L-0.363,0.118L-0.951,-0.309L-0.2245,-0.309Z","square","triangle-up","M0,-1L0.2245,-0.309L0.951,-0.309L0.363,0.118L0.588,0.809L0,0.382L-0.588,0.809L-0.363,0.118L-0.951,-0.309L-0.2245,-0.309Z"]}, "legend": null},
  "stroke": {"field": "s", "type": "nominal", "scale": {"domain": ["1 Proton","1 Deuteron","1 Triton","2 Proton","2 Deuteron","2 Triton"], "range": ["#000000","#ff0000","#0000ff","#222222","#ff0000","#0000ff"]}, "legend": null},
  "fill": {"field": "s", "type": "nominal", "scale": {"domain": ["1 Proton","1 Deuteron","1 Triton","2 Proton","2 Deuteron","2 Triton"], "range": ["#000000","#ff0000","#0000ff","transparent","transparent","transparent"]}, "legend": null}
 }},
{"data": {"name": "err"}, "transform": [{"filter": "datum.p == 'BL'"}],
 "mark": {"type": "rule", "strokeWidth": 1.2},
 "encoding": {
  "x": {"field": "x", "type": "quantitative", "scale": {"domain": [0, 7.5], "nice": false, "zero": false}, "axis": {"orient": "top", "values": [0,1,2,3,4,5,6,7], "labels": false, "title": null, "tickSize": -5}},
  "y": {"field": "lo", "type": "quantitative", "scale": {"domain": [0.5, 2.69], "nice": false, "zero": false}, "axis": {"orient": "right", "values": [0.5,0.75,1,1.25,1.5,1.75,2,2.25,2.5], "labels": false, "title": null, "tickSize": -5}},
  "y2": {"field": "hi"},
  "color": {"field": "s", "type": "nominal", "scale": {"domain": ["2 Triton","2 Deuteron","2 Proton","1 Triton","1 Deuteron","1 Proton"], "range": ["#0000ff","#ff0000","#000000","#0000ff","#ff0000","#000000"]}, "legend": null}
 }},
{"data": {"name": "err"}, "transform": [{"filter": "datum.p == 'BL'"}],
 "mark": {"type": "tick", "orient": "horizontal", "size": 7, "thickness": 1.2},
 "encoding": {
  "x": {"field": "x", "type": "quantitative", "scale": {"domain": [0, 7.5], "nice": false, "zero": false}, "axis": {"orient": "bottom", "values": [0.5,1.5,2.5,3.5,4.5,5.5,6.5], "labels": false, "title": null, "tickSize": 3}},
  "y": {"field": "lo", "type": "quantitative", "scale": {"domain": [0.5, 2.69], "nice": false, "zero": false}, "axis": {"orient": "left", "values": [0.625,0.875,1.125,1.375,1.625,1.875,2.125,2.375,2.625], "labels": false, "title": null, "tickSize": 3}},
  "color": {"field": "s", "type": "nominal", "scale": {"domain": ["2 Triton","2 Deuteron","2 Proton","1 Triton","1 Deuteron","1 Proton"], "range": ["#0000ff","#ff0000","#000000","#0000ff","#ff0000","#000000"]}, "legend": null}
 }},
{"data": {"name": "err"}, "transform": [{"filter": "datum.p == 'BL'"}],
 "mark": {"type": "tick", "orient": "horizontal", "size": 7, "thickness": 1.2},
 "encoding": {
  "x": {"field": "x", "type": "quantitative", "scale": {"domain": [0, 7.5], "nice": false, "zero": false}, "axis": {"orient": "top", "values": [0.5,1.5,2.5,3.5,4.5,5.5,6.5], "labels": false, "title": null, "tickSize": -3}},
  "y": {"field": "hi", "type": "quantitative", "scale": {"domain": [0.5, 2.69], "nice": false, "zero": false}, "axis": {"orient": "right", "values": [0.625,0.875,1.125,1.375,1.625,1.875,2.125,2.375,2.625], "labels": false, "title": null, "tickSize": -3}},
  "color": {"field": "s", "type": "nominal", "scale": {"domain": ["2 Triton","2 Deuteron","2 Proton","1 Triton","1 Deuteron","1 Proton"], "range": ["#0000ff","#ff0000","#000000","#0000ff","#ff0000","#000000"]}, "legend": null}
 }}
]
},
{
"width": 354, "height": 275,
"resolve": {"axis": {"x": "independent", "y": "independent"}},
"layer": [
{"data": {"name": "pts"}, "transform": [{"filter": "datum.p == 'BR'"}],
 "mark": {"type": "line", "strokeWidth": 1},
 "encoding": {
  "x": {"field": "x", "type": "quantitative", "scale": {"domain": [0, 8.35], "nice": false, "zero": false}, "axis": {"orient": "bottom", "values": [0,1,2,3,4,5,6,7,8], "title": null}},
  "y": {"field": "y", "type": "quantitative", "scale": {"domain": [0.5, 2.69], "nice": false, "zero": false}, "axis": {"orient": "left", "values": [0.5,0.75,1,1.25,1.5,1.75,2,2.25,2.5], "labels": false, "title": null}},
  "color": {"field": "s", "type": "nominal", "scale": {"domain": ["2 Deut/Trit","2 Prot","1 Deut/Trit","1 Prot"], "range": ["#ff0000","#000000","#ff0000","#000000"]}, "legend": null}
 }},
{"data": {"name": "pts"}, "transform": [{"filter": "datum.p == 'BR'"}],
 "mark": {"type": "point", "filled": true, "strokeWidth": 1.5, "opacity": 1},
 "encoding": {
  "x": {"field": "x", "type": "quantitative", "scale": {"domain": [0, 8.35], "nice": false, "zero": false}, "axis": null},
  "y": {"field": "y", "type": "quantitative", "scale": {"domain": [0.5, 2.69], "nice": false, "zero": false}, "axis": null},
  "size": {"field": "s", "type": "nominal", "scale": {"domain": ["1 Deut/Trit","1 Prot","2 Deut/Trit","2 Prot"], "range": [170,140,170,140]}, "legend": null},
  "shape": {"field": "s", "type": "nominal", "scale": {"domain": ["1 Prot","1 Deut/Trit","2 Prot","2 Deut/Trit"], "range": ["square","triangle-up","square","triangle-up"]}, "legend": {"title": null, "orient": "none", "legendX": 253, "legendY": 143, "direction": "vertical"}},
  "stroke": {"field": "s", "type": "nominal", "scale": {"domain": ["1 Prot","1 Deut/Trit","2 Prot","2 Deut/Trit"], "range": ["#000000","#ff0000","#222222","#ff0000"]}, "legend": {"title": null, "orient": "none", "legendX": 253, "legendY": 143, "direction": "vertical"}},
  "fill": {"field": "s", "type": "nominal", "scale": {"domain": ["1 Prot","1 Deut/Trit","2 Prot","2 Deut/Trit"], "range": ["#000000","#ff0000","transparent","transparent"]}, "legend": {"title": null, "orient": "none", "legendX": 253, "legendY": 143, "direction": "vertical"}}
 }},
{"data": {"name": "err"}, "transform": [{"filter": "datum.p == 'BR'"}],
 "mark": {"type": "rule", "strokeWidth": 1.2},
 "encoding": {
  "x": {"field": "x", "type": "quantitative", "scale": {"domain": [0, 8.35], "nice": false, "zero": false}, "axis": {"orient": "top", "values": [0,1,2,3,4,5,6,7,8], "labels": false, "title": null, "tickSize": -5}},
  "y": {"field": "lo", "type": "quantitative", "scale": {"domain": [0.5, 2.69], "nice": false, "zero": false}, "axis": {"orient": "right", "values": [0.5,0.75,1,1.25,1.5,1.75,2,2.25,2.5], "labels": false, "title": null, "tickSize": -5}},
  "y2": {"field": "hi"},
  "color": {"field": "s", "type": "nominal", "scale": {"domain": ["2 Deut/Trit","2 Prot","1 Deut/Trit","1 Prot"], "range": ["#ff0000","#000000","#ff0000","#000000"]}, "legend": null}
 }},
{"data": {"name": "err"}, "transform": [{"filter": "datum.p == 'BR'"}],
 "mark": {"type": "tick", "orient": "horizontal", "size": 7, "thickness": 1.2},
 "encoding": {
  "x": {"field": "x", "type": "quantitative", "scale": {"domain": [0, 8.35], "nice": false, "zero": false}, "axis": {"orient": "bottom", "values": [0.5,1.5,2.5,3.5,4.5,5.5,6.5,7.5], "labels": false, "title": null, "tickSize": 3}},
  "y": {"field": "lo", "type": "quantitative", "scale": {"domain": [0.5, 2.69], "nice": false, "zero": false}, "axis": {"orient": "left", "values": [0.625,0.875,1.125,1.375,1.625,1.875,2.125,2.375,2.625], "labels": false, "title": null, "tickSize": 3}},
  "color": {"field": "s", "type": "nominal", "scale": {"domain": ["2 Deut/Trit","2 Prot","1 Deut/Trit","1 Prot"], "range": ["#ff0000","#000000","#ff0000","#000000"]}, "legend": null}
 }},
{"data": {"name": "err"}, "transform": [{"filter": "datum.p == 'BR'"}],
 "mark": {"type": "tick", "orient": "horizontal", "size": 7, "thickness": 1.2},
 "encoding": {
  "x": {"field": "x", "type": "quantitative", "scale": {"domain": [0, 8.35], "nice": false, "zero": false}, "axis": {"orient": "top", "values": [0.5,1.5,2.5,3.5,4.5,5.5,6.5,7.5], "labels": false, "title": null, "tickSize": -3}},
  "y": {"field": "hi", "type": "quantitative", "scale": {"domain": [0.5, 2.69], "nice": false, "zero": false}, "axis": {"orient": "right", "values": [0.625,0.875,1.125,1.375,1.625,1.875,2.125,2.375,2.625], "labels": false, "title": null, "tickSize": -3}},
  "color": {"field": "s", "type": "nominal", "scale": {"domain": ["2 Deut/Trit","2 Prot","1 Deut/Trit","1 Prot"], "range": ["#ff0000","#000000","#ff0000","#000000"]}, "legend": null}
 }}
]
}
]
}
